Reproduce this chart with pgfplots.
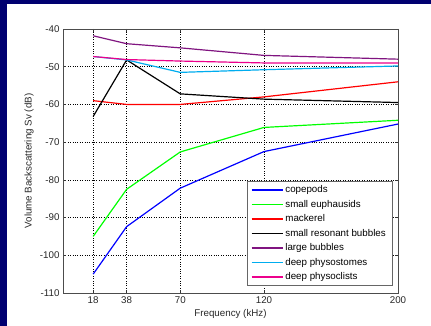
\documentclass[border=0pt]{standalone}
\usepackage{pgfplots}
\pgfplotsset{compat=1.18}
\usepackage{fontspec}
\setmainfont{Liberation Sans}
\definecolor{navybg}{RGB}{0,0,112}
\definecolor{mpurple}{RGB}{128,20,128}
\definecolor{txt}{RGB}{40,40,40}
\begin{document}
\begin{tikzpicture}[x=1bp,y=1bp]
\fill[navybg] (0,0) rectangle (431,326);
\fill[white] (7,0) rectangle (431,322);
\useasboundingbox (0,0) rectangle (431,326);
\begin{axis}[
  at={(63bp,33bp)}, anchor=south west,
  scale only axis, width=335bp, height=264bp,
  xmin=0, xmax=200, ymin=-110, ymax=-40,
  xtick={18,38,70,120,200},
  xticklabels={18,38,70,120,200},
  ytick={-110,-100,-90,-80,-70,-60,-50,-40},
  yticklabels={-110,-100,-90,-80,-70,-60,-50,-40},
  tick align=inside, major tick length=3bp,
  tick style={black!80, line width=0.5pt},
  axis line style={black!70, line width=0.6pt},
  grid=major,
  major grid style={black, dotted, line width=0.5pt},
  font=\fontsize{9.8}{11}\selectfont,
  every tick label/.append style={text=txt},
  xlabel={Frequency (kHz)},
  ylabel={Volume Backscattering Sv (dB)},
  xlabel style={at={(axis description cs:0.5,-0.0795)}, anchor=center, text=txt},
  ylabel style={at={(axis description cs:-0.1015,0.5)}, anchor=center, text=txt},
  legend style={at={(axis cs:196.4,-108.1)}, anchor=south east,
    draw=black!60, fill=white,
    font=\fontsize{9.8}{11}\selectfont,
    inner xsep=4bp, inner ysep=2.5bp,
    row sep=1.9bp},
  legend cell align=left,
  legend image code/.code={\draw[#1, line width=1.3pt] (0bp,0bp) -- (31bp,0bp);},
  every axis plot/.append style={line width=1.2pt},
]
\addplot[blue] coordinates {(18,-105) (38,-92.4) (70,-82.2) (120,-72.5) (200,-65.2)};
\addlegendentry{copepods}
\addplot[green] coordinates {(18,-95) (38,-82.5) (70,-72.6) (120,-66.1) (200,-64.2)};
\addlegendentry{small euphausids}
\addplot[red] coordinates {(18,-59) (38,-60) (70,-60) (120,-58) (200,-54)};
\addlegendentry{mackerel}
\addplot[black] coordinates {(18,-63.2) (38,-48.2) (70,-57.2) (120,-58.6) (200,-59.5)};
\addlegendentry{small resonant bubbles}
\addplot[mpurple] coordinates {(18,-41.8) (38,-43.9) (70,-45) (120,-47) (200,-48)};
\addlegendentry{large bubbles}
\addplot[cyan] coordinates {(18,-47.3) (38,-48.2) (70,-51.5) (120,-50.8) (200,-49.8)};
\addlegendentry{deep physostomes}
\addplot[magenta] coordinates {(18,-47.3) (38,-48.1) (70,-48.5) (120,-49) (200,-49)};
\addlegendentry{deep physoclists}
\end{axis}
\end{tikzpicture}
\end{document}
